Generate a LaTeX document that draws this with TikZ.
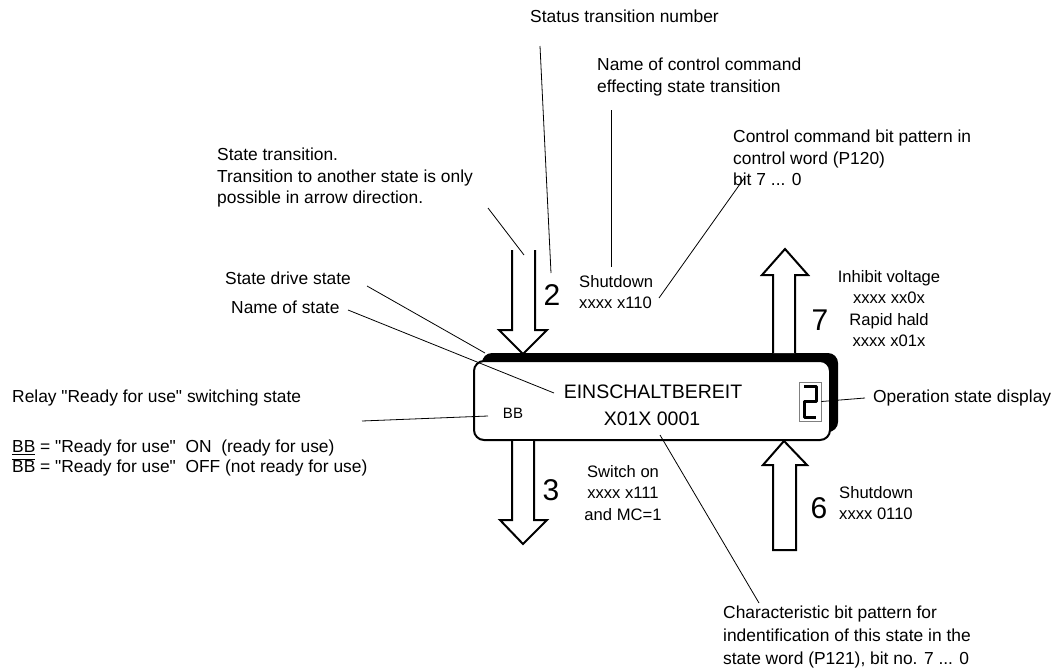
\documentclass[tikz,border=0pt]{standalone}
\usepackage{fontspec}
\setmainfont{Liberation Sans}[Ligatures=TeXOff]
\begin{document}
\begin{tikzpicture}[x=1pt,y=-1pt,
  lbl/.style={inner sep=0pt, font=\fontsize{17.4}{21.5}\selectfont, align=left},
  sml/.style={inner sep=0pt, font=\fontsize{16.6}{21.5}\selectfont, align=center},
  num/.style={inner sep=0pt, font=\fontsize{30}{30}\selectfont},
  boxtxt/.style={inner sep=0pt, font=\fontsize{19.5}{20}\selectfont},
  lead/.style={line width=0.8pt},
  arr/.style={line width=2pt, fill=white, line join=miter},
]
\useasboundingbox (0,0) rectangle (1058,672);

% state box with shadow
\fill[rounded corners=10pt] (482,353) rectangle (838,432);
\draw[fill=white, line width=2pt, rounded corners=10pt] (474,361) rectangle (830,440);

% transition arrows
\draw[arr] (512,250) -- (512,330) -- (499,330) -- (523,354) -- (547,330) -- (535,330) -- (535,250);
\draw[arr] (512,441) -- (512,520) -- (500,520) -- (523,544) -- (547,520) -- (534,520) -- (534,441);
\draw[arr] (773,353) -- (773,275) -- (762,275) -- (785,249) -- (808,275) -- (795,275) -- (795,353);
\draw[arr] (773,550) -- (773,465) -- (763,465) -- (784,441) -- (807,465) -- (796,465) -- (796,550) -- cycle;

% texts
\node[lbl, anchor=north west] (stn) at (530,10) {Status transition number};
\node[lbl, anchor=north west] (ncc) at (597,58) {Name of control command\\effecting state transition};
\node[lbl, anchor=north west] (ccb) at (733,130) {Control command bit pattern in\\control word (P120)\\bit 7 ... 0};
\node[lbl, anchor=north west] (st) at (217,148) {State transition.\\Transition to another state is only\\possible in arrow direction.};
\node[lbl, anchor=west] (sds) at (225,278) {State drive state};
\node[lbl, anchor=west] (nos) at (231,307) {Name of state};
\node[lbl, anchor=west] (relay) at (12,398) {Relay "Ready for use" switching state};
\node[lbl, anchor=north west, font=\fontsize{17.4}{20}\selectfont] (bb) at (12,440) {\underline{BB} = "Ready for use"\ \ ON\ \ (ready for use)\\$\overline{\hbox{BB}}$ = "Ready for use"\ \ OFF (not ready for use)};
\node[lbl, anchor=west] (osd) at (873,398) {Operation state display};
\node[lbl, anchor=north west, font=\fontsize{17.4}{23}\selectfont] (chr) at (723,606) {Characteristic bit pattern for\\indentification of this state in the\\state word (P121), bit no. 7 ... 0};

\node[sml, anchor=north] (iv) at (889,270) {Inhibit voltage\\xxxx xx0x\\Rapid hald\\xxxx x01x};
\node[sml, anchor=north west, align=left] (sd1) at (579,275) {Shutdown\\xxxx x110};
\node[sml, anchor=north] (sw) at (623,465) {Switch on\\xxxx x111\\and MC=1};
\node[sml, anchor=north west, align=left] (sd6) at (839,486) {Shutdown\\xxxx 0110};

\node[num] (n2) at (552,295) {2};
\node[num] (n3) at (551,490) {3};
\node[num] (n7) at (820,320) {7};
\node[num] (n6) at (819,508) {6};

\node[boxtxt] (name) at (653,392) {EINSCHALTBEREIT};
\node[boxtxt] (bits) at (652,419) {X01X 0001};
\node[inner sep=0pt, font=\fontsize{15}{15}\selectfont] (bbin) at (513,413) {BB};

% seven segment display
\node[draw=gray, line width=0.8pt, minimum width=22pt, minimum height=39pt, inner sep=0pt] (disp) at (810,401.5) {};
\draw[line width=3pt, line join=round] (804,386) -- (816,386) -- (816,401) -- (804,401) -- (804,417) -- (816,417);

% leader lines
\coordinate (a1) at (540,46);  \coordinate (b1) at (551,273);
\coordinate (a2) at (611,110); \coordinate (b2) at (611,267);
\coordinate (a3) at (745,177); \coordinate (b3) at (659,298);
\coordinate (a4) at (488,208); \coordinate (b4) at (524,255);
\coordinate (a5) at (367,286); \coordinate (b5) at (485,353);
\coordinate (a6) at (348,310); \coordinate (b6) at (554,393);
\coordinate (a7) at (362,421); \coordinate (b7) at (488,416);
\coordinate (a8) at (disp.east); \coordinate (b8) at (865,398);
\coordinate (a9) at (660,435); \coordinate (b9) at (759,603);
\foreach \i in {1,...,9} {\draw[lead] (a\i) -- (b\i);}
\end{tikzpicture}
\end{document}
